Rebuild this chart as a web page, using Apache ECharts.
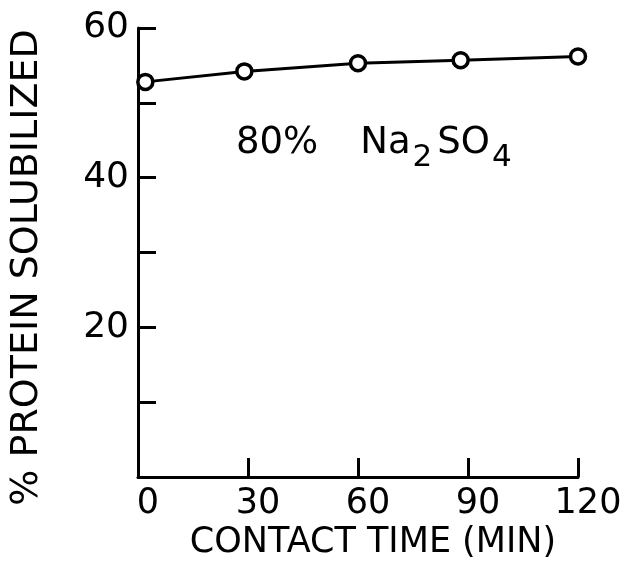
<!DOCTYPE html>
<html>
<head>
<meta charset="utf-8">
<script src="https://cdn.jsdelivr.net/npm/echarts@6/dist/echarts.min.js"></script>
<style>
html,body{margin:0;padding:0;background:#fff;}
#chart{width:637px;height:581px;}
</style>
</head>
<body>
<div id="chart"></div>
<script>
// Data
const contactTime = [2, 29, 60, 88, 120];
const proteinSolubilized = [52.8, 54.2, 55.3, 55.7, 56.2];
const yLabelValues = [20, 40, 60];
const xTicks = [0, 30, 60, 90, 120];
const annotation = { main: '80%', ion: 'Na', sub1: '2', mid: 'SO', sub2: '4' };

const FONT = '"DejaVu Sans", sans-serif';
const chart = echarts.init(document.getElementById('chart'), null, { renderer: 'canvas' });

chart.setOption({
  backgroundColor: '#fff',
  animation: false,
  grid: { left: 137, right: 59, top: 28, bottom: 104 },
  xAxis: {
    type: 'value',
    min: 0, max: 120, interval: 30,
    name: 'CONTACT TIME (MIN)',
    nameLocation: 'middle',
    nameGap: 44,
    nameTextStyle: { fontFamily: FONT, fontSize: 35, color: '#000', padding: [0, 0, 0, 30] },
    axisLine: { show: true, onZero: false, lineStyle: { color: '#000', width: 3 } },
    axisTick: { show: true, inside: true, length: 19, lineStyle: { color: '#000', width: 3 } },
    axisLabel: {
      fontFamily: FONT, fontSize: 35, color: '#000', margin: 9,
      padding: [0, 0, 0, 20],
      formatter: v => xTicks.includes(v) ? String(v) : ''
    },
    splitLine: { show: false }
  },
  yAxis: {
    type: 'value',
    min: 0, max: 60, interval: 10,
    name: '% PROTEIN SOLUBILIZED',
    nameLocation: 'middle',
    nameRotate: 90,
    nameGap: 92,
    nameTextStyle: { fontFamily: FONT, fontSize: 38, color: '#000', padding: [0, 30, 0, 0] },
    axisLine: { show: true, onZero: false, lineStyle: { color: '#000', width: 3 } },
    axisTick: { show: true, inside: true, length: 18, lineStyle: { color: '#000', width: 3 } },
    axisLabel: {
      fontFamily: FONT, fontSize: 36, color: '#000', margin: 9,
      formatter: v => yLabelValues.includes(v) ? String(v) : ''
    },
    splitLine: { show: false }
  },
  graphic: [{
    type: 'text',
    left: 236, top: 125,
    style: {
      text: '{m|' + annotation.main + '}{n|' + annotation.ion + '}{s|' + annotation.sub1 + '}{o|' + annotation.mid + '}{s|' + annotation.sub2 + '}',
      rich: {
        m: { fontFamily: FONT, fontSize: 37, fill: '#000', padding: [0, 0, 14, 0] },
        n: { fontFamily: FONT, fontSize: 37, fill: '#000', padding: [0, 0, 14, 42] },
        o: { fontFamily: FONT, fontSize: 37, fill: '#000', padding: [0, 0, 14, 4] },
        s: { fontFamily: FONT, fontSize: 31, fill: '#000', padding: [14, 1, 0, 2] }
      }
    }
  }],
  series: [{
    type: 'line',
    data: contactTime.map((t, i) => [t, proteinSolubilized[i]]),
    symbol: 'circle',
    symbolSize: 15,
    itemStyle: { color: '#fff', borderColor: '#000', borderWidth: 3.5 },
    lineStyle: { color: '#000', width: 3 },
    z: 3
  }]
});
</script>
</body>
</html>
